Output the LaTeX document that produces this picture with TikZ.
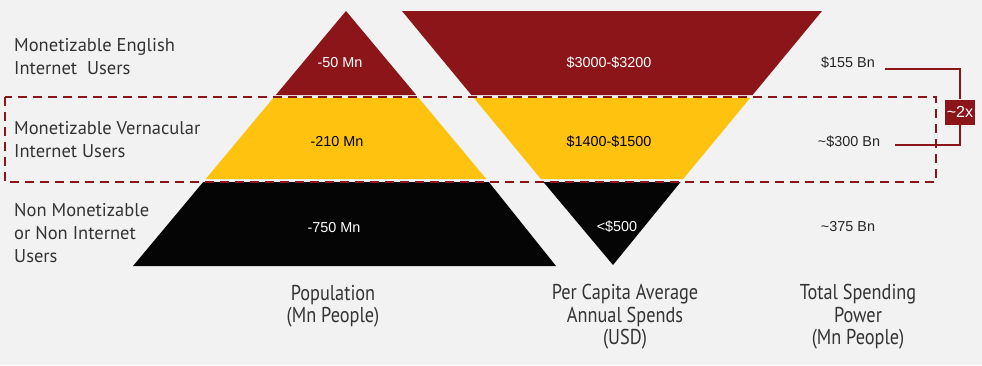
\documentclass[tikz,border=0pt]{standalone}
\usepackage{fontspec}
\setmainfont{PT Sans}
\newfontfamily\arialfont{Liberation Sans}
\newfontfamily\condfont[FakeStretch=0.85]{PT Sans}
\definecolor{bgcol}{HTML}{F1F2F1}
\definecolor{darkred}{HTML}{8B1519}
\definecolor{gold}{HTML}{FFC20E}
\definecolor{nearblack}{HTML}{050505}
\tikzset{
  rowlabel/.style={align=left,anchor=west,font=\fontsize{18.5}{23}\selectfont,text=black!80,inner sep=0pt},
  collabel/.style={align=center,font=\condfont\fontsize{21.5}{22.5}\selectfont,text=black!80,inner sep=0pt},
  inlabel/.style={font=\arialfont\fontsize{14.4}{16}\selectfont,inner sep=0pt},
  sumlabel/.style={font=\arialfont\fontsize{14.4}{16}\selectfont,text=black!85,inner sep=0pt}
}
\begin{document}
\begin{tikzpicture}[x=1pt,y=-1pt]
  \useasboundingbox[fill=bgcol] (0,0) rectangle (982,365);

  % population pyramid
  \fill[darkred]   (346,11) -- (416.2,95) -- (275.8,95) -- cycle;
  \fill[gold]      (273.3,98) -- (418.7,98) -- (486.3,179) -- (205.7,179) -- cycle;
  \fill[nearblack] (203.2,182) -- (488.8,182) -- (556,266) -- (133,266) -- cycle;

  % spends funnel
  \fill[darkred]   (402,11) -- (822,11) -- (752.6,95) -- (471.4,95) -- cycle;
  \fill[gold]      (473.9,98) -- (750.1,98) -- (683.1,179) -- (540.9,179) -- cycle;
  \fill[nearblack] (543.4,182) -- (680.6,182) -- (613,265) -- cycle;

  % vernacular band
  \draw[darkred,line width=2pt,dash pattern=on 9pt off 6pt] (5,97) rectangle (936,182);

  \node[rowlabel] (eng) at (14,57) {Monetizable English\\Internet~~Users};
  \node[rowlabel] (ver) at (14,140) {Monetizable Vernacular\\Internet Users};
  \node[rowlabel] (non) at (14,233) {Non Monetizable\\or Non Internet\\Users};

  \node[inlabel,text=white] (popE) at (340,63) {-50 Mn};
  \node[inlabel,text=black] (popV) at (337,142) {-210 Mn};
  \node[inlabel,text=white] (popN) at (334,228) {-750 Mn};

  \node[inlabel,text=white] (spE) at (609,63) {\$3000-\$3200};
  \node[inlabel,text=black] (spV) at (609,142) {\$1400-\$1500};
  \node[inlabel,text=white] (spN) at (617,227) {<\$500};

  \node[sumlabel] (totE) at (848,63) {\$155 Bn};
  \node[sumlabel] (totV) at (849,142) {\textasciitilde\$300 Bn};
  \node[sumlabel] (totN) at (848,227) {\textasciitilde375 Bn};

  \node[collabel] (pop) at (333,306) {Population\\(Mn People)};
  \node[collabel] (spend) at (625,317) {Per Capita Average\\Annual Spends\\(USD)};
  \node[collabel] (total) at (858,317) {Total Spending\\Power\\(Mn People)};

  % ~2x bracket
  \coordinate (bE) at (885,69);
  \coordinate (bV) at (895,145);
  \node[fill=darkred,text=white,font=\arialfont\fontsize{16}{18}\selectfont,
        minimum width=30pt,minimum height=25pt,inner sep=0pt] (ratio) at (960,112) {\textasciitilde2x};
  \draw[darkred,line width=1.5pt] (bE) -| (ratio.north);
  \draw[darkred,line width=1.5pt] (bV) -| (ratio.south);
\end{tikzpicture}
\end{document}
